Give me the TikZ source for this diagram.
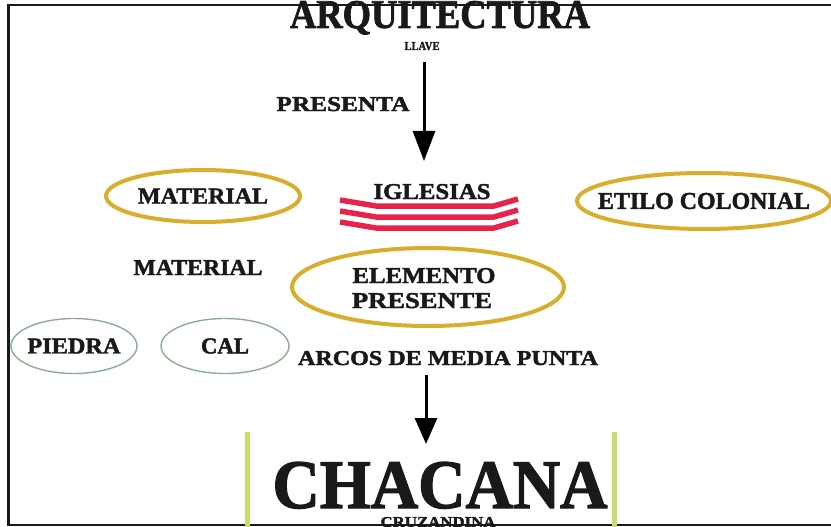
\documentclass[tikz,border=0pt]{standalone}
\usepackage{fontspec}
\setmainfont{Liberation Serif}[BoldFeatures={FakeBold=1.8}]
\usepackage{graphicx}
\usetikzlibrary{shapes.geometric,arrows.meta}
\definecolor{gold}{HTML}{D8AE2C}
\definecolor{sage}{HTML}{8DAE8D}
\definecolor{crimson}{HTML}{E5234B}
\definecolor{lime}{HTML}{C9DD6F}
\newcommand{\fittext}[3]{\resizebox{#1pt}{#2pt}{\bfseries #3}}
\newcommand{\zerowide}[1]{\makebox[0pt]{#1}}
\begin{document}
\begin{tikzpicture}[x=1pt,y=-1pt,
  lbl/.style={inner sep=0pt,anchor=base,text=black!90},
  goldring/.style={ellipse,draw=gold,line width=4pt,inner sep=0pt,text=black!90},
  sagering/.style={ellipse,draw=sage,line width=1.4pt,inner sep=0pt,text=black!90},
  bigarrow/.style={line width=3pt,-{Triangle[length=30pt,width=22pt]}},
  band/.style={draw=crimson,line width=5.5pt},
  post/.style={draw=lime,line width=5pt}]
\useasboundingbox (0,0) rectangle (831,527);
% frame
\draw[line width=2.5pt,black!90] (831,5) -- (8.5,5) -- (8.5,525) -- (831,525);
% title
\node[lbl] (arq) at (440,28) {\fittext{300}{27}{ARQUITECTURA}};
\node[lbl] (llave) at (422,50) {\fittext{35}{8}{LLAVE}};
\node[lbl] (presenta) at (343,111) {\fittext{133}{14}{PRESENTA}};
\coordinate (a1s) at (424,62);
\coordinate (a1e) at (424,161);
\draw[bigarrow] (a1s) -- (a1e);
% row 1
\node[goldring,minimum width=194pt,minimum height=52pt] (mat1) at (203,196) {\zerowide{\fittext{130}{15}{MATERIAL}}};
\node[lbl] (igl) at (432,199) {\fittext{117}{15}{IGLESIAS}};
\foreach \d in {0,11,22}{
  \draw[band] (340,{200+\d}) -- (376,{206+\d}) -- (494,{206+\d}) -- (518,{199+\d});
}
\node[goldring,minimum width=254pt,minimum height=56pt] (etilo) at (704,201) {\zerowide{\fittext{212}{16}{ETILO COLONIAL}}};
% row 2
\node[lbl] (mat2) at (198,275) {\fittext{129}{15}{MATERIAL}};
\node[goldring,minimum width=272pt,minimum height=78pt] (elem) at (428,287) {};
\node[lbl] (elem1) at (424,283) {\fittext{143}{15}{ELEMENTO}};
\node[lbl] (elem2) at (422,308) {\fittext{140}{15}{PRESENTE}};
% row 3
\node[sagering,minimum width=126pt,minimum height=55pt] (piedra) at (74,346) {\zerowide{\fittext{93}{15}{PIEDRA}}};
\node[sagering,minimum width=128pt,minimum height=55pt] (cal) at (225,346) {\zerowide{\fittext{48}{15}{CAL}}};
\node[lbl] (arcos) at (448,365) {\fittext{300}{14}{ARCOS DE MEDIA PUNTA}};
\coordinate (a2s) at (426,375);
\coordinate (a2e) at (426,444);
\draw[bigarrow,-{Triangle[length=26pt,width=22pt]}] (a2s) -- (a2e);
% chacana
\coordinate (p1a) at (247,432);
\coordinate (p1b) at (247,527);
\coordinate (p2a) at (614,432);
\coordinate (p2b) at (614,527);
\draw[post] (p1a) -- (p1b);
\draw[post] (p2a) -- (p2b);
\node[lbl] (chacana) at (440,508) {\fittext{335}{46}{CHACANA}};
\node[lbl] (cruz) at (438,527) {\fittext{115}{10}{CRUZANDINA}};
\end{tikzpicture}
\end{document}
